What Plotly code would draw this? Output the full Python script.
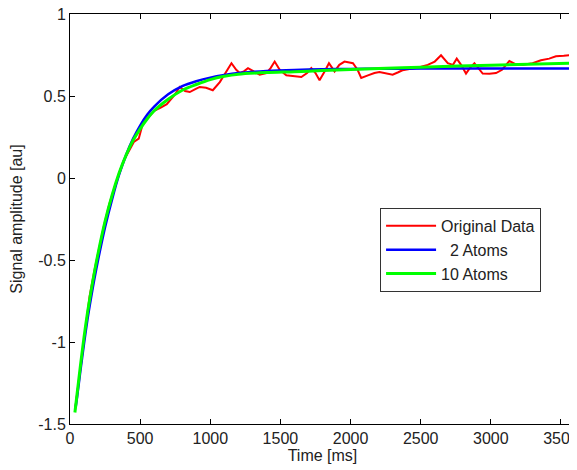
import plotly.graph_objects as go

# Original measured signal (time in ms, amplitude in au)
orig_t = [35, 70, 105, 140, 175, 210, 245, 280, 315, 350, 385, 420, 455, 490,
          525, 560, 600, 650, 690, 740, 783, 820, 854, 890, 925, 970, 1018,
          1068, 1110, 1151, 1185, 1210, 1240, 1269, 1310, 1352, 1400, 1430,
          1459, 1495, 1542, 1600, 1649, 1690, 1720, 1750, 1779, 1815, 1846,
          1886, 1920, 1957, 2017, 2050, 2076, 2124, 2170, 2206, 2250, 2300,
          2340, 2370, 2420, 2467, 2510, 2550, 2600, 2645, 2693, 2730, 2757,
          2788, 2823, 2850, 2883, 2910, 2942, 2990, 3037, 3080, 3132, 3179,
          3230, 3298, 3357, 3416, 3464, 3520, 3575]
orig_v = [-1.42, -1.18, -0.93, -0.72, -0.56, -0.41, -0.28, -0.16, -0.06, 0.03,
          0.11, 0.17, 0.22, 0.24, 0.35, 0.37, 0.41, 0.43, 0.45, 0.50, 0.555,
          0.53, 0.524, 0.54, 0.555, 0.55, 0.535, 0.585, 0.64, 0.70, 0.66, 0.64,
          0.65, 0.67, 0.65, 0.63, 0.64, 0.67, 0.71, 0.66, 0.626, 0.62, 0.616,
          0.64, 0.67, 0.64, 0.596, 0.65, 0.70, 0.65, 0.69, 0.71, 0.70, 0.66,
          0.61, 0.626, 0.64, 0.646, 0.64, 0.63, 0.645, 0.657, 0.665, 0.67,
          0.68, 0.69, 0.71, 0.748, 0.70, 0.69, 0.728, 0.69, 0.637, 0.67, 0.70,
          0.67, 0.637, 0.635, 0.64, 0.66, 0.713, 0.693, 0.69, 0.70, 0.718,
          0.728, 0.742, 0.745, 0.75]

# 2-atom fit
fit2_t = [40, 50, 75, 100, 125, 150, 175, 200, 250, 300, 350, 400, 450, 500,
          550, 600, 700, 800, 900, 1000, 1100, 1200, 1400, 1600, 1800, 2000,
          2200, 2500, 3000, 3600]
fit2_v = [-1.40, -1.34, -1.17, -1.01, -0.86, -0.73, -0.61, -0.50, -0.30, -0.13,
          0.02, 0.14, 0.24, 0.32, 0.385, 0.435, 0.51, 0.56, 0.59, 0.612, 0.628,
          0.64, 0.652, 0.659, 0.663, 0.665, 0.666, 0.667, 0.667, 0.667]

# 10-atom fit
fit10_t = [35, 50, 75, 100, 125, 150, 175, 200, 250, 300, 350, 400, 450, 500,
           550, 600, 700, 800, 900, 1000, 1100, 1200, 1400, 1600, 1800, 2000,
           2200, 2500, 3000, 3600]
fit10_v = [-1.43, -1.32, -1.14, -0.97, -0.82, -0.69, -0.57, -0.46, -0.265,
           -0.105, 0.03, 0.14, 0.23, 0.30, 0.36, 0.41, 0.48, 0.535, 0.57, 0.60,
           0.62, 0.633, 0.643, 0.648, 0.655, 0.662, 0.668, 0.676, 0.688, 0.70]

x_ticks = [0, 500, 1000, 1500, 2000, 2500, 3000, 3500]
y_ticks = [-1.5, -1, -0.5, 0, 0.5, 1]
y_tick_text = ['-1.5', '-1', '-0.5', '0', '0.5', '1']

fig = go.Figure()
fig.add_trace(go.Scatter(x=orig_t, y=orig_v, mode='lines', name='Original Data',
                         line=dict(color='#ff0000', width=2)))
fig.add_trace(go.Scatter(x=fit2_t, y=fit2_v, mode='lines', name='\u00a0\u00a02 Atoms',
                         line=dict(color='#0000ff', width=2.5, shape='spline', smoothing=0.8)))
fig.add_trace(go.Scatter(x=fit10_t, y=fit10_v, mode='lines', name='10 Atoms',
                         line=dict(color='#00ff00', width=3, shape='spline', smoothing=0.8)))

label_font = dict(family='Liberation Sans', size=16, color='#222')
axis_style = dict(
    showline=True, linecolor='black', linewidth=1, mirror='ticks',
    ticks='inside', ticklen=5, tickcolor='black', showgrid=False,
    zeroline=False, automargin=False, ticklabeloverflow='allow',
    tickfont=label_font,
)

fig.update_xaxes(range=[0, 3600], tickvals=x_ticks,
                 title=dict(text='Time [ms]', font=label_font, standoff=0),
                 **axis_style)
fig.update_yaxes(range=[-1.5, 1], tickvals=y_ticks, ticktext=y_tick_text,
                 title=dict(text='Signal amplitude [au]', font=label_font),
                 **axis_style)

# page body adds an 8px offset, margins compensate for it
fig.update_layout(
    width=577, height=470,
    margin=dict(l=62, r=10, t=6, b=54),
    plot_bgcolor='white', paper_bgcolor='white',
    showlegend=True,
    legend=dict(x=0.614, y=0.527, xanchor='left', yanchor='top',
                bordercolor='#333', borderwidth=1, bgcolor='white',
                font=dict(family='Liberation Sans', size=16, color='#222'),
                tracegroupgap=0, itemwidth=50),
)

fig.write_html("out.html")
